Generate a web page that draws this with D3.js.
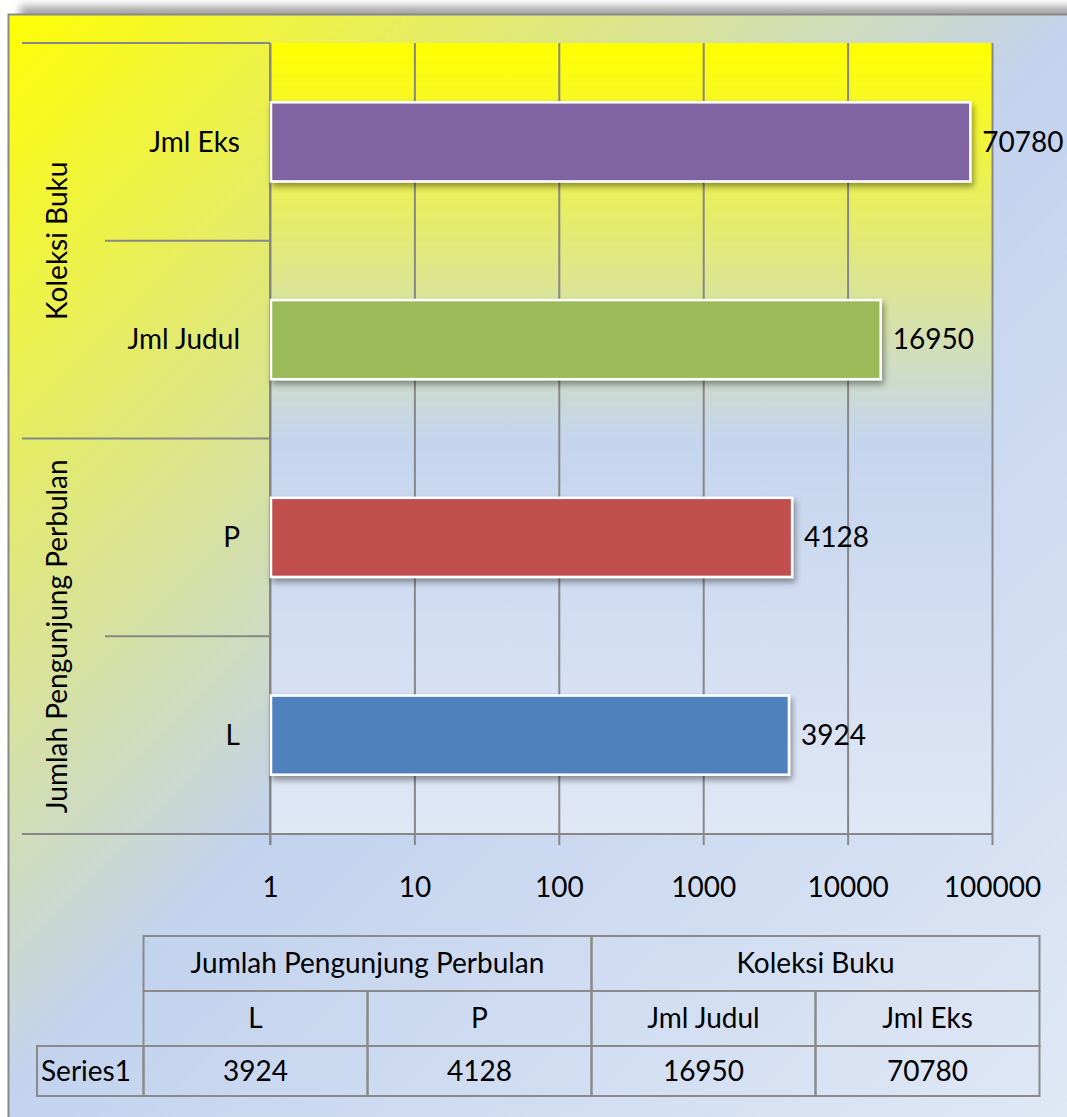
<!DOCTYPE html>
<html>
<head>
<meta charset="utf-8">
<script src="https://cdn.jsdelivr.net/npm/d3@7"></script>
<style>
  html, body { margin: 0; padding: 0; background: #ffffff; }
  svg { display: block; }
  text { font-family: Lato, "Open Sans", sans-serif; fill: #000; }
</style>
</head>
<body>
<svg id="chart" width="1067" height="1117"></svg>
<script>
// ---- data ----
const categories = ["L", "P", "Jml Judul", "Jml Eks"];
const groups = ["Jumlah Pengunjung Perbulan", "Koleksi Buku"];
const groupOfCategory = [0, 0, 1, 1];
const values = [3924, 4128, 16950, 70780];
const barColors = ["#4f81bd", "#c0504d", "#9bbb59", "#8064a2"];
const tickValues = [1, 10, 100, 1000, 10000, 100000];
const seriesName = "Series1";

// ---- layout ----
const W = 1067, H = 1117;
const plot = { left: 270, right: 992, top: 43, bottom: 834 };
const catAxisLeft = 22, innerAxisLeft = 105;
const fontSize = 28;

const svg = d3.select("#chart");
const defs = svg.append("defs");

const bg = defs.append("linearGradient").attr("id", "bgGrad")
  .attr("gradientUnits", "userSpaceOnUse")
  .attr("x1", 0).attr("y1", 0).attr("x2", 1100).attr("y2", 1100);
bg.append("stop").attr("offset", 0).attr("stop-color", "#ffff00");
bg.append("stop").attr("offset", 0.5).attr("stop-color", "#c3d3ee");
bg.append("stop").attr("offset", 1).attr("stop-color", "#e0e8f5");

const pg = defs.append("linearGradient").attr("id", "plotGrad")
  .attr("x1", 0).attr("y1", 0).attr("x2", 0).attr("y2", 1);
pg.append("stop").attr("offset", 0).attr("stop-color", "#ffff00");
pg.append("stop").attr("offset", 0.5).attr("stop-color", "#c5d5ee");
pg.append("stop").attr("offset", 1).attr("stop-color", "#e0e7f5");

const blur = defs.append("filter").attr("id", "outerBlur")
  .attr("x", "-10%").attr("y", "-10%").attr("width", "120%").attr("height", "120%");
blur.append("feGaussianBlur").attr("stdDeviation", 4);

const shadow = defs.append("filter").attr("id", "barShadow")
  .attr("x", "-10%").attr("y", "-20%").attr("width", "120%").attr("height", "160%");
shadow.append("feDropShadow").attr("dx", 2).attr("dy", 4)
  .attr("stdDeviation", 3).attr("flood-color", "#000").attr("flood-opacity", 0.4);

// chart area shadow + background
svg.append("rect").attr("x", 20).attr("y", 6).attr("width", 1200).attr("height", 1200)
  .attr("fill", "#000").attr("opacity", 0.35).attr("filter", "url(#outerBlur)");
svg.append("rect").attr("x", 8.5).attr("y", 14.5).attr("width", 1200).attr("height", 1200)
  .attr("fill", "url(#bgGrad)").attr("stroke", "#8a8a8a").attr("stroke-width", 2);

// ---- scales ----
const x = d3.scaleLog().domain([tickValues[0], tickValues[tickValues.length - 1]])
  .range([plot.left, plot.right]);
const y = d3.scaleBand().domain(categories.slice().reverse())
  .range([plot.top, plot.bottom]).paddingInner(0.6).paddingOuter(0.3);

// plot area
svg.append("rect").attr("x", plot.left).attr("y", plot.top)
  .attr("width", plot.right - plot.left).attr("height", plot.bottom - plot.top)
  .attr("fill", "url(#plotGrad)");

// gridlines (vertical) via axis
const gridAxis = d3.axisBottom(x).tickValues(tickValues)
  .tickSize(-(plot.bottom - plot.top)).tickFormat("");
const gridG = svg.append("g").attr("transform", `translate(0,${plot.bottom})`).call(gridAxis);
gridG.select(".domain").remove();
gridG.selectAll("line").attr("stroke", "#878787").attr("stroke-width", 2);

// bottom axis with outer ticks and labels
const xAxis = d3.axisBottom(x).tickValues(tickValues).tickSize(11).tickPadding(40)
  .tickFormat(d3.format("d"));
const xg = svg.append("g").attr("transform", `translate(0,${plot.bottom})`).call(xAxis);
xg.select(".domain").remove();
xg.selectAll("line").attr("stroke", "#878787").attr("stroke-width", 2);
xg.selectAll("text").attr("font-size", fontSize).attr("font-family", "Lato, sans-serif")
  .attr("fill", "#000").attr("dy", null).attr("y", 52).attr("dominant-baseline", "central");

// horizontal axis line at bottom (extends under category axis)
svg.append("line").attr("x1", catAxisLeft).attr("x2", plot.right)
  .attr("y1", plot.bottom).attr("y2", plot.bottom)
  .attr("stroke", "#878787").attr("stroke-width", 2);
// vertical value-axis line
svg.append("line").attr("x1", plot.left).attr("x2", plot.left)
  .attr("y1", plot.top).attr("y2", plot.bottom + 11)
  .attr("stroke", "#878787").attr("stroke-width", 2);

// category axis divider lines
const step = y.step();
const nCats = categories.length;
for (let k = 0; k < nCats; k++) {
  const yy = plot.top + k * step;
  // category index (bottom-up) for the line's lower neighbour
  const catBelow = nCats - 1 - k;
  const catAbove = catBelow + 1;
  const isGroupEdge = k === 0 || groupOfCategory[catBelow] !== groupOfCategory[catAbove];
  svg.append("line")
    .attr("x1", isGroupEdge ? catAxisLeft : innerAxisLeft).attr("x2", plot.left)
    .attr("y1", yy).attr("y2", yy)
    .attr("stroke", "#878787").attr("stroke-width", 2);
}

// bars
svg.append("g").selectAll("rect").data(categories).join("rect")
  .attr("x", plot.left + 1)
  .attr("y", d => y(d))
  .attr("width", (d, i) => x(values[i]) - plot.left - 1)
  .attr("height", y.bandwidth())
  .attr("fill", (d, i) => barColors[i])
  .attr("stroke", "#ffffff").attr("stroke-width", 2.5)
  .attr("filter", "url(#barShadow)");

// value labels
svg.append("g").selectAll("text").data(categories).join("text")
  .attr("x", (d, i) => x(values[i]) + 12)
  .attr("y", d => y(d) + y.bandwidth() / 2)
  .attr("dy", "0.35em")
  .attr("font-size", fontSize)
  .text((d, i) => values[i]);

// category labels
svg.append("g").selectAll("text").data(categories).join("text")
  .attr("x", 240)
  .attr("y", d => y(d) + y.bandwidth() / 2)
  .attr("dy", "0.35em")
  .attr("text-anchor", "end")
  .attr("font-size", fontSize)
  .text(d => d);

// group titles (rotated)
groups.forEach((g, gi) => {
  const idx = categories.map((c, i) => i).filter(i => groupOfCategory[i] === gi);
  const ys = idx.map(i => y(categories[i]) + y.bandwidth() / 2);
  const cy = (d3.min(ys) + d3.max(ys)) / 2;
  svg.append("text")
    .attr("transform", `translate(67,${cy}) rotate(-90)`)
    .attr("text-anchor", "middle")
    .attr("font-size", fontSize)
    .text(g);
});

// ---- data table ----
const tbl = { left: 143.5, right: 1039.5, rows: [936, 991, 1046, 1096], seriesLeft: 37 };
const colW = (tbl.right - tbl.left) / categories.length;
const tg = svg.append("g");
const cellStroke = "#8a8a8a";

function cell(x0, y0, w, h, label) {
  tg.append("rect").attr("x", x0).attr("y", y0).attr("width", w).attr("height", h)
    .attr("fill", "none").attr("stroke", cellStroke).attr("stroke-width", 2);
  tg.append("text").attr("x", x0 + w / 2).attr("y", y0 + h / 2).attr("dy", "0.35em")
    .attr("text-anchor", "middle").attr("font-size", fontSize).text(label);
}

groups.forEach((g, gi) => {
  const idx = categories.map((c, i) => i).filter(i => groupOfCategory[i] === gi);
  cell(tbl.left + d3.min(idx) * colW, tbl.rows[0], idx.length * colW, tbl.rows[1] - tbl.rows[0], g);
});
categories.forEach((c, i) => {
  cell(tbl.left + i * colW, tbl.rows[1], colW, tbl.rows[2] - tbl.rows[1], c);
  cell(tbl.left + i * colW, tbl.rows[2], colW, tbl.rows[3] - tbl.rows[2], values[i]);
});
tg.append("rect").attr("x", tbl.seriesLeft).attr("y", tbl.rows[2])
  .attr("width", tbl.left - tbl.seriesLeft).attr("height", tbl.rows[3] - tbl.rows[2])
  .attr("fill", "none").attr("stroke", cellStroke).attr("stroke-width", 2);
tg.append("text").attr("x", tbl.seriesLeft + 4).attr("y", (tbl.rows[2] + tbl.rows[3]) / 2)
  .attr("dy", "0.35em").attr("font-size", fontSize).text(seriesName);
</script>
</body>
</html>
